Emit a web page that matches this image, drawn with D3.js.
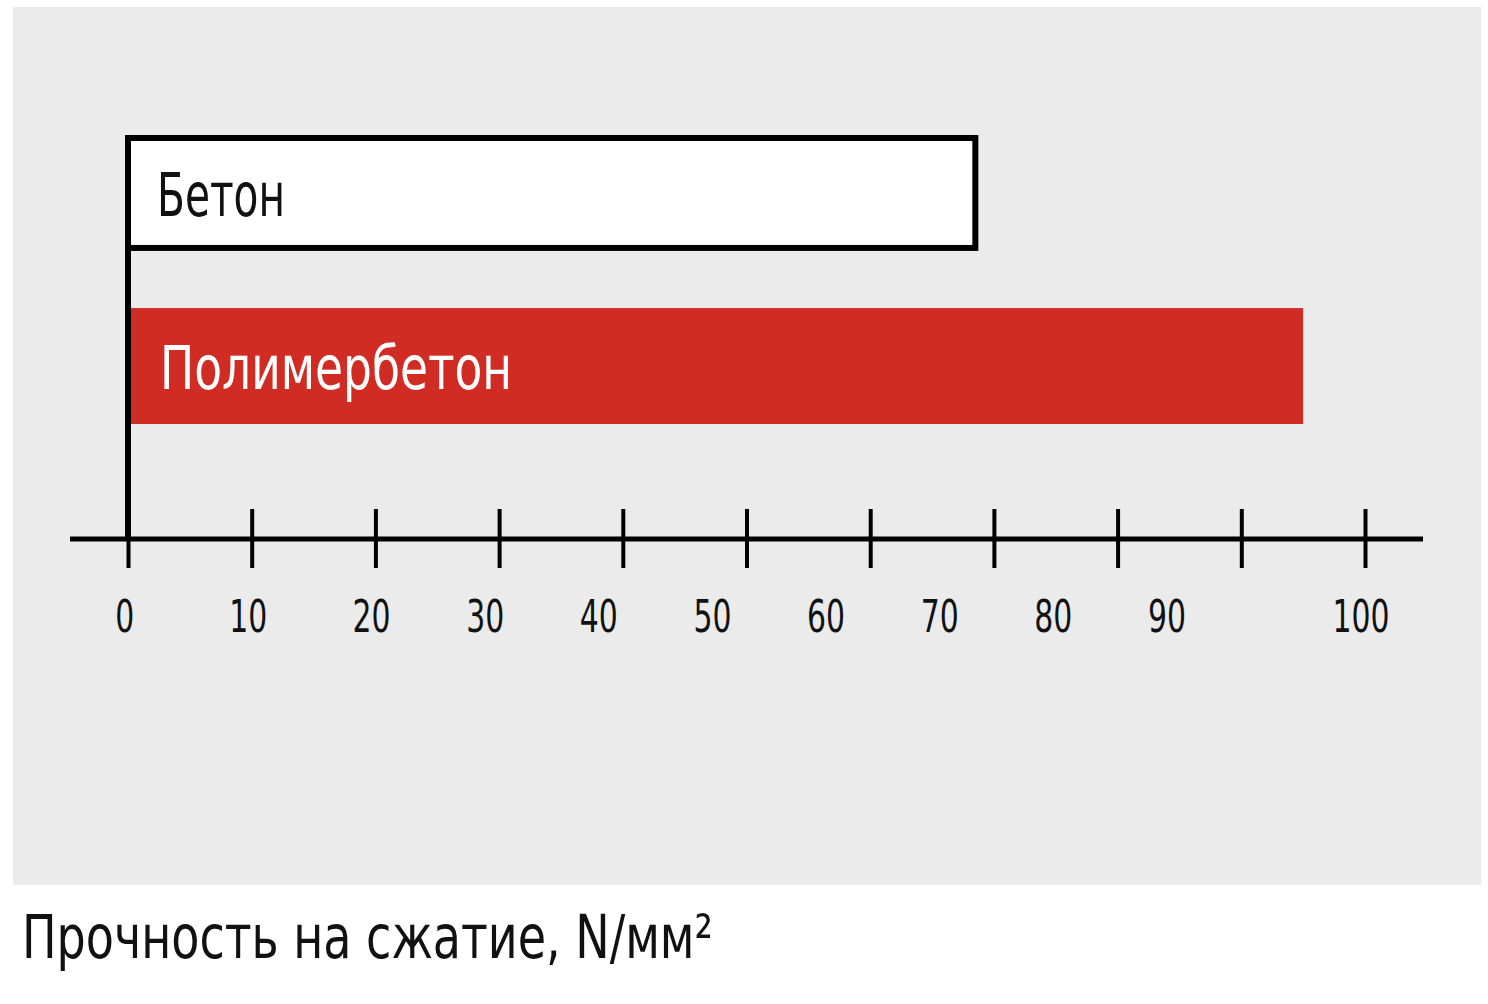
<!DOCTYPE html>
<html>
<head>
<meta charset="utf-8">
<script src="https://cdn.jsdelivr.net/npm/d3@7"></script>
<style>
  html, body { margin: 0; padding: 0; background: #ffffff; }
  svg { display: block; }
  text { font-family: "Liberation Sans Narrow", "DejaVu Sans Condensed", "Roboto Condensed", sans-serif; font-stretch: condensed; }
</style>
</head>
<body>
<svg id="chart" width="1488" height="1004"></svg>
<script>
// ---- data ----
const categories = ["Бетон", "Полимербетон"];
const values = [68.5, 95];
const tickValues = [0, 10, 20, 30, 40, 50, 60, 70, 80, 90, 100];
const tickLabels = ["0", "10", "20", "30", "40", "50", "60", "70", "80", "90", "100"];
const axisTitle = "Прочность на сжатие, N/мм²";

// ---- layout ----
const svg = d3.select("#chart");
const RED = "#D02C23";

svg.append("rect")
  .attr("x", 13).attr("y", 7).attr("width", 1468).attr("height", 878)
  .attr("fill", "#EBEBEB");

const x = d3.scaleLinear().domain([0, 100]).range([128, 1365]);
const y = d3.scaleBand().domain(categories).range([135, 424]).paddingInner(0.33);
// label placement as in the reference (labels drift from the ticks)
const xLabel = d3.scaleLinear().domain([0, 20, 90, 100]).range([124.7, 371.6, 1167, 1361]);

const axisY = 539;

// bars
const barStyles = [
  { fill: "#ffffff", stroke: "#000000", sw: 6, text: "#111111", tx: 157, len: 128 },
  { fill: RED, stroke: "none", sw: 0, text: "#ffffff", tx: 160, len: 352 }
];

categories.forEach((c, i) => {
  const st = barStyles[i];
  const y0 = y(c), bw = y.bandwidth();
  svg.append("rect")
    .attr("x", x(0))
    .attr("y", y0 + st.sw / 2)
    .attr("width", x(values[i]) - x(0))
    .attr("height", bw - st.sw)
    .attr("fill", st.fill)
    .attr("stroke", st.stroke)
    .attr("stroke-width", st.sw);
});

// vertical axis line
svg.append("line")
  .attr("x1", x(0)).attr("x2", x(0))
  .attr("y1", y(categories[0])).attr("y2", axisY + 2)
  .attr("stroke", "#000").attr("stroke-width", 6);

// bar labels
categories.forEach((c, i) => {
  const st = barStyles[i];
  const y0 = y(c), bw = y.bandwidth();
  svg.append("text")
    .attr("x", st.tx)
    .attr("y", y0 + bw / 2 + 23)
    .attr("font-size", 60)
    .attr("fill", st.text)
    .attr("textLength", st.len)
    .attr("lengthAdjust", "spacingAndGlyphs")
    .text(c);
});

// horizontal axis
svg.append("line")
  .attr("x1", 70).attr("x2", 1423)
  .attr("y1", axisY).attr("y2", axisY)
  .attr("stroke", "#000").attr("stroke-width", 5);

const axisG = svg.append("g")
  .attr("transform", `translate(0,${axisY})`)
  .call(d3.axisBottom(x).tickValues(tickValues).tickSize(0).tickFormat(""));
axisG.select(".domain").remove();
axisG.selectAll(".tick line")
  .attr("y1", -30).attr("y2", 29)
  .attr("stroke", "#000").attr("stroke-width", 4);
axisG.selectAll(".tick text").remove();

// tick labels
svg.append("g").selectAll("text")
  .data(tickValues)
  .join("text")
  .attr("x", (d, i) => xLabel(d) - tickLabels[i].length * 9.5)
  .attr("y", 632)
  .attr("font-size", 44)
  .attr("fill", "#111")
  .attr("textLength", (d, i) => tickLabels[i].length * 19)
  .attr("lengthAdjust", "spacingAndGlyphs")
  .text((d, i) => tickLabels[i]);

// axis title
svg.append("text")
  .attr("x", 22).attr("y", 958)
  .attr("font-size", 60)
  .attr("fill", "#111")
  .attr("textLength", 691)
  .attr("lengthAdjust", "spacingAndGlyphs")
  .text(axisTitle);
</script>
</body>
</html>
